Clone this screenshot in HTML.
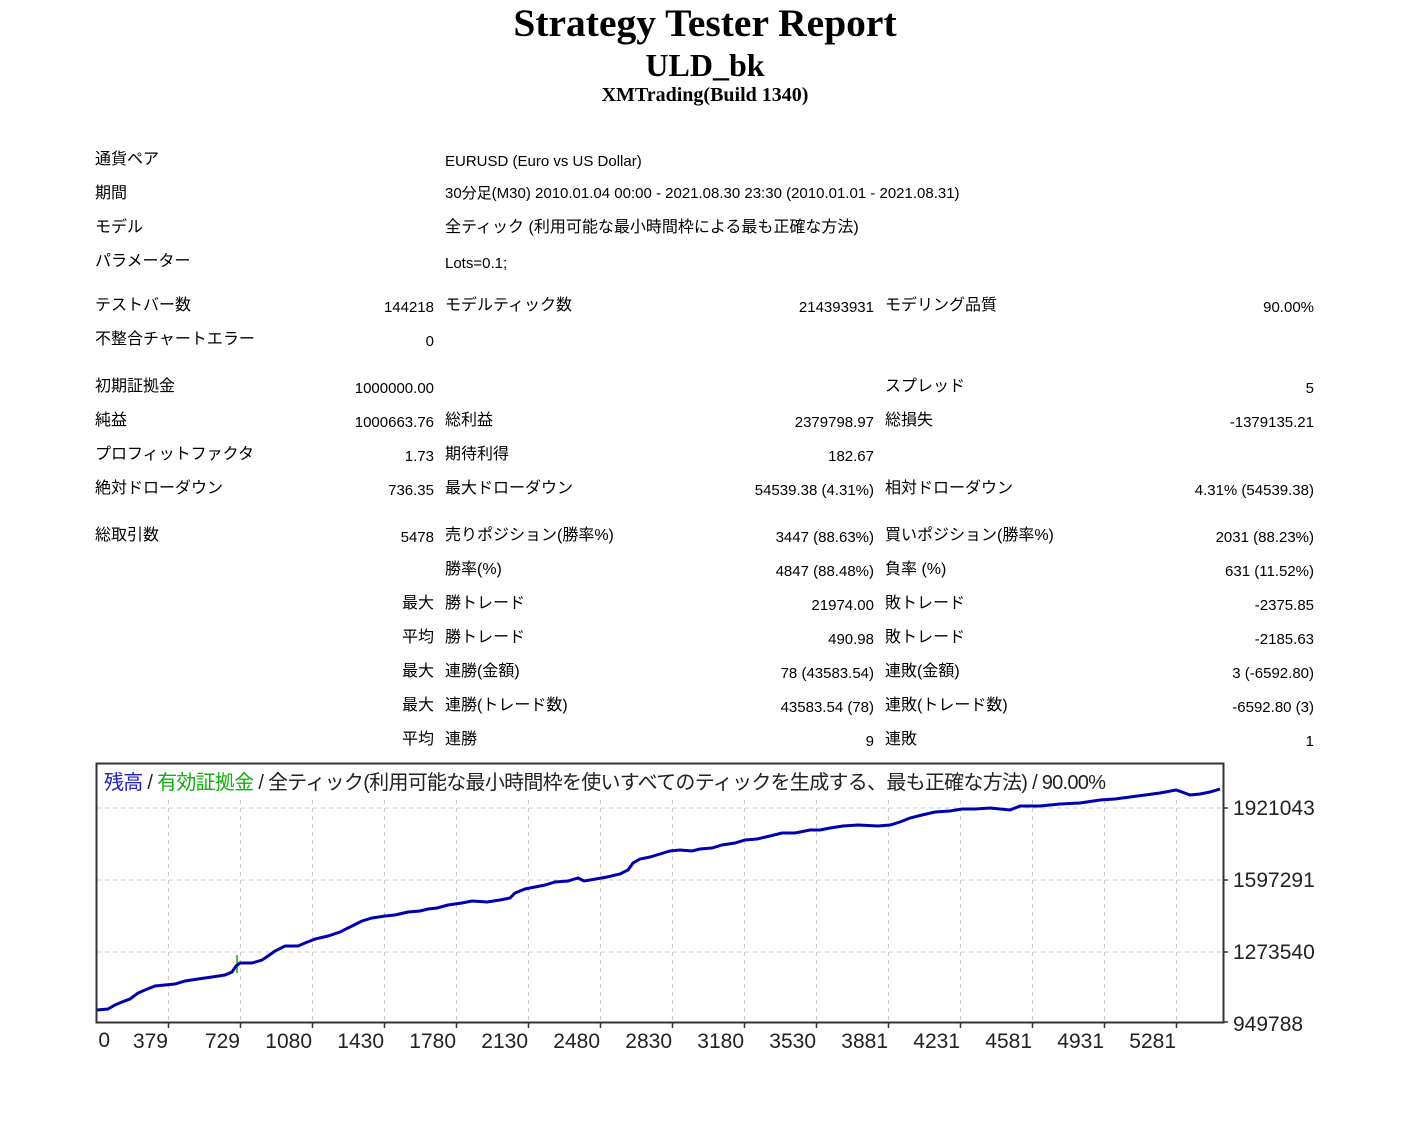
<!DOCTYPE html>
<html><head><meta charset="utf-8">
<style>
body{margin:0;width:1425px;height:1139px;background:#fff;position:relative;overflow:hidden;font-family:"Liberation Sans","Noto Sans CJK JP",sans-serif;color:#000}
.t{position:absolute;white-space:nowrap;font-size:15px;line-height:20px;margin-top:2px}
.t.j{font-size:16px}
.r{text-align:right}
.h{position:absolute;left:0;width:1410px;text-align:center;font-family:"Liberation Serif",serif;font-weight:bold;white-space:nowrap}
</style></head><body>
<div class="h" style="top:0px;font-size:39.5px;line-height:46px">Strategy Tester Report</div>
<div class="h" style="top:46px;font-size:32px;line-height:38px">ULD_bk</div>
<div class="h" style="top:83px;font-size:20px;line-height:24px">XMTrading(Build 1340)</div>

<div class="t j" style="left:95px;top:148px">通貨ペア</div><div class="t" style="left:445px;top:150px">EURUSD (Euro vs US Dollar)</div>
<div class="t j" style="left:95px;top:182px">期間</div><div class="t" style="left:445px;top:182px">30分足(M30) 2010.01.04 00:00 - 2021.08.30 23:30 (2010.01.01 - 2021.08.31)</div>
<div class="t j" style="left:95px;top:216px">モデル</div><div class="t j" style="left:445px;top:216px">全ティック (利用可能な最小時間枠による最も正確な方法)</div>
<div class="t j" style="left:95px;top:250px">パラメーター</div><div class="t" style="left:445px;top:252px">Lots=0.1;</div>

<div class="t j" style="left:95px;top:294px">テストバー数</div><div class="t r" style="right:991px;top:296px">144218</div><div class="t j" style="left:445px;top:294px">モデルティック数</div><div class="t r" style="right:551px;top:296px">214393931</div><div class="t j" style="left:885px;top:294px">モデリング品質</div><div class="t r" style="right:111px;top:296px">90.00%</div>
<div class="t j" style="left:95px;top:328px">不整合チャートエラー</div><div class="t r" style="right:991px;top:330px">0</div>

<div class="t j" style="left:95px;top:375px">初期証拠金</div><div class="t r" style="right:991px;top:377px">1000000.00</div><div class="t j" style="left:885px;top:375px">スプレッド</div><div class="t r" style="right:111px;top:377px">5</div>
<div class="t j" style="left:95px;top:409px">純益</div><div class="t r" style="right:991px;top:411px">1000663.76</div><div class="t j" style="left:445px;top:409px">総利益</div><div class="t r" style="right:551px;top:411px">2379798.97</div><div class="t j" style="left:885px;top:409px">総損失</div><div class="t r" style="right:111px;top:411px">-1379135.21</div>
<div class="t j" style="left:95px;top:443px">プロフィットファクタ</div><div class="t r" style="right:991px;top:445px">1.73</div><div class="t j" style="left:445px;top:443px">期待利得</div><div class="t r" style="right:551px;top:445px">182.67</div>
<div class="t j" style="left:95px;top:477px">絶対ドローダウン</div><div class="t r" style="right:991px;top:479px">736.35</div><div class="t j" style="left:445px;top:477px">最大ドローダウン</div><div class="t r" style="right:551px;top:479px">54539.38 (4.31%)</div><div class="t j" style="left:885px;top:477px">相対ドローダウン</div><div class="t r" style="right:111px;top:479px">4.31% (54539.38)</div>

<div class="t j" style="left:95px;top:524px">総取引数</div><div class="t r" style="right:991px;top:526px">5478</div><div class="t j" style="left:445px;top:524px">売りポジション(勝率%)</div><div class="t r" style="right:551px;top:526px">3447 (88.63%)</div><div class="t j" style="left:885px;top:524px">買いポジション(勝率%)</div><div class="t r" style="right:111px;top:526px">2031 (88.23%)</div>
<div class="t j" style="left:445px;top:558px">勝率(%)</div><div class="t r" style="right:551px;top:560px">4847 (88.48%)</div><div class="t j" style="left:885px;top:558px">負率 (%)</div><div class="t r" style="right:111px;top:560px">631 (11.52%)</div>
<div class="t j r" style="right:991px;top:592px">最大</div><div class="t j" style="left:445px;top:592px">勝トレード</div><div class="t r" style="right:551px;top:594px">21974.00</div><div class="t j" style="left:885px;top:592px">敗トレード</div><div class="t r" style="right:111px;top:594px">-2375.85</div>
<div class="t j r" style="right:991px;top:626px">平均</div><div class="t j" style="left:445px;top:626px">勝トレード</div><div class="t r" style="right:551px;top:628px">490.98</div><div class="t j" style="left:885px;top:626px">敗トレード</div><div class="t r" style="right:111px;top:628px">-2185.63</div>
<div class="t j r" style="right:991px;top:660px">最大</div><div class="t j" style="left:445px;top:660px">連勝(金額)</div><div class="t r" style="right:551px;top:662px">78 (43583.54)</div><div class="t j" style="left:885px;top:660px">連敗(金額)</div><div class="t r" style="right:111px;top:662px">3 (-6592.80)</div>
<div class="t j r" style="right:991px;top:694px">最大</div><div class="t j" style="left:445px;top:694px">連勝(トレード数)</div><div class="t r" style="right:551px;top:696px">43583.54 (78)</div><div class="t j" style="left:885px;top:694px">連敗(トレード数)</div><div class="t r" style="right:111px;top:696px">-6592.80 (3)</div>
<div class="t j r" style="right:991px;top:728px">平均</div><div class="t j" style="left:445px;top:728px">連勝</div><div class="t r" style="right:551px;top:730px">9</div><div class="t j" style="left:885px;top:728px">連敗</div><div class="t r" style="right:111px;top:730px">1</div>

<svg style="position:absolute;left:0;top:0" width="1425" height="1139">
<g stroke="#c8c8c8" stroke-width="1" stroke-dasharray="4,4">
<line x1="97" y1="808" x2="1222" y2="808"/><line x1="97" y1="880" x2="1222" y2="880"/><line x1="97" y1="952" x2="1222" y2="952"/>
<line x1="168.5" y1="800" x2="168.5" y2="1022"/><line x1="240.5" y1="800" x2="240.5" y2="1022"/><line x1="312.5" y1="800" x2="312.5" y2="1022"/><line x1="384.5" y1="800" x2="384.5" y2="1022"/><line x1="456.5" y1="800" x2="456.5" y2="1022"/><line x1="528.5" y1="800" x2="528.5" y2="1022"/><line x1="600.5" y1="800" x2="600.5" y2="1022"/><line x1="672.5" y1="800" x2="672.5" y2="1022"/><line x1="744.5" y1="800" x2="744.5" y2="1022"/><line x1="816.5" y1="800" x2="816.5" y2="1022"/><line x1="888.5" y1="800" x2="888.5" y2="1022"/><line x1="960.5" y1="800" x2="960.5" y2="1022"/><line x1="1032.5" y1="800" x2="1032.5" y2="1022"/><line x1="1104.5" y1="800" x2="1104.5" y2="1022"/><line x1="1176.5" y1="800" x2="1176.5" y2="1022"/>
</g>
<rect x="96.5" y="763.5" width="1127" height="259" fill="none" stroke="#333" stroke-width="2"/>
<g stroke="#333" stroke-width="1.5">
<line x1="168.5" y1="1023" x2="168.5" y2="1028"/><line x1="240.5" y1="1023" x2="240.5" y2="1028"/><line x1="312.5" y1="1023" x2="312.5" y2="1028"/><line x1="384.5" y1="1023" x2="384.5" y2="1028"/><line x1="456.5" y1="1023" x2="456.5" y2="1028"/><line x1="528.5" y1="1023" x2="528.5" y2="1028"/><line x1="600.5" y1="1023" x2="600.5" y2="1028"/><line x1="672.5" y1="1023" x2="672.5" y2="1028"/><line x1="744.5" y1="1023" x2="744.5" y2="1028"/><line x1="816.5" y1="1023" x2="816.5" y2="1028"/><line x1="888.5" y1="1023" x2="888.5" y2="1028"/><line x1="960.5" y1="1023" x2="960.5" y2="1028"/><line x1="1032.5" y1="1023" x2="1032.5" y2="1028"/><line x1="1104.5" y1="1023" x2="1104.5" y2="1028"/><line x1="1176.5" y1="1023" x2="1176.5" y2="1028"/>
<line x1="1223" y1="808" x2="1228" y2="808"/><line x1="1223" y1="880" x2="1228" y2="880"/><line x1="1223" y1="952" x2="1228" y2="952"/><line x1="1223" y1="1022" x2="1228" y2="1022"/>
</g>
<line x1="237" y1="955" x2="237" y2="973" stroke="#00b000" stroke-width="1.5"/>
<polyline fill="none" stroke="#0000b0" stroke-width="3" points="97,1010 108,1009 115,1005 122,1002 130,999 138,993 145,990 155,986 165,985 175,984 185,981 198,979 212,977 225,975 232,972 236,966 240,963 252,963 262,960 268,956 275,951 285,946 298,946 305,943 315,939 328,936 340,932 352,926 362,921 372,918 385,916 395,915 408,912 420,911 428,909 437,908 448,905 462,903 472,901 487,902 500,900 510,898 515,893 525,889 535,887 545,885 555,882 568,881 578,878 584,881 596,879 607,877 620,874 628,870 633,863 640,859 650,857 660,854 670,851 680,850 692,851 700,849 712,848 722,845 735,843 745,840 757,839 770,836 782,833 795,833 810,830 820,830 830,828 843,826 858,825 878,826 890,825 900,822 910,818 922,815 935,812 950,811 962,809 975,809 990,808 1010,810 1020,806 1040,806 1060,804 1080,803 1100,800 1115,799 1130,797 1145,795 1160,793 1176,790 1182,792 1190,795 1200,794 1210,792 1220,789"/>
<g font-family="Liberation Sans,Noto Sans CJK JP,sans-serif" font-size="21" fill="#222">
<text x="104" y="789" font-size="20" textLength="1002"><tspan fill="#2020c0">残高</tspan><tspan> / </tspan><tspan fill="#10b010">有効証拠金</tspan><tspan> / 全ティック(利用可能な最小時間枠を使いすべてのティックを生成する、最も正確な方法) / 90.00%</tspan></text>
<text x="1233" y="815">1921043</text><text x="1233" y="887">1597291</text><text x="1233" y="959">1273540</text><text x="1233" y="1031">949788</text>
<g text-anchor="end"><text x="110" y="1047">0</text><text x="168" y="1048">379</text><text x="240" y="1048">729</text><text x="312" y="1048">1080</text><text x="384" y="1048">1430</text><text x="456" y="1048">1780</text><text x="528" y="1048">2130</text><text x="600" y="1048">2480</text><text x="672" y="1048">2830</text><text x="744" y="1048">3180</text><text x="816" y="1048">3530</text><text x="888" y="1048">3881</text><text x="960" y="1048">4231</text><text x="1032" y="1048">4581</text><text x="1104" y="1048">4931</text><text x="1176" y="1048">5281</text></g>
</g>
</svg>
</body></html>
